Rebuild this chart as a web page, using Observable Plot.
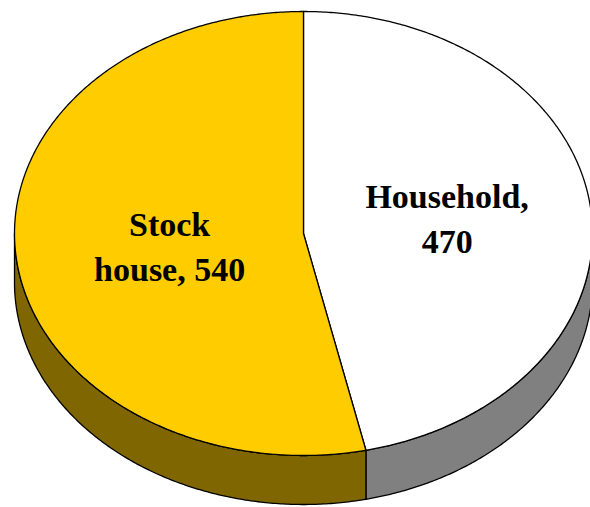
<!DOCTYPE html>
<html>
<head>
<meta charset="utf-8">
<script src="https://cdn.jsdelivr.net/npm/d3@7"></script>
<script src="https://cdn.jsdelivr.net/npm/@observablehq/plot@0.6"></script>
<style>
  html, body { margin: 0; padding: 0; background: #fff; }
  svg { display: block; }
</style>
</head>
<body>
<div id="chart"></div>
<script>
// ---- data ----
const categories = ["Household", "Stock house"];
const values = [470, 540];
const labels = ["Household,\n470", "Stock\nhouse, 540"];
const topColors = ["#ffffff", "#ffcc00"];
const sideColors = ["#808080", "#7f6600"];

// ---- geometry (ellipse of the tilted pie) ----
const W = 590, H = 507;
const cx = 303, cy = 233, rx = 289, ry = 222, depth = 49;
const pt = (a, dy = 0) => ({x: cx + rx * Math.sin(a), y: cy - ry * Math.cos(a) + dy});
const arc = (a0, a1, dy = 0) => {
  const n = Math.max(2, Math.ceil(Math.abs(a1 - a0) / (Math.PI / 360)));
  return d3.range(n + 1).map(i => pt(a0 + (a1 - a0) * i / n, dy));
};

const arcs = d3.pie().sort(null).startAngle(0).endAngle(2 * Math.PI)(values);

const polys = [];
// side walls (front half: angles between PI/2 and 3PI/2)
arcs.forEach((s, i) => {
  const a0 = Math.max(s.startAngle, Math.PI / 2);
  const a1 = Math.min(s.endAngle, 3 * Math.PI / 2);
  if (a1 <= a0) return;
  const top = arc(a0, a1, 0);
  const bot = arc(a1, a0, depth);
  const ring = [...top, ...bot, top[0]];
  ring.forEach(p => polys.push({id: "side" + i, fill: sideColors[i], ...p}));
});
// top faces
arcs.forEach((s, i) => {
  const ring = [{x: cx, y: cy}, ...arc(s.startAngle, s.endAngle), {x: cx, y: cy}];
  ring.forEach(p => polys.push({id: "top" + i, fill: topColors[i], ...p}));
});

// label anchors from slice mid-angles
const labelRadius = [0.5, 0.466];
const labelShift = [-5, -1];
const labelData = arcs.map((s, i) => {
  const m = (s.startAngle + s.endAngle) / 2;
  return {
    text: labels[i],
    x: cx + rx * labelRadius[i] * Math.sin(m),
    y: cy - ry * labelRadius[i] * Math.cos(m) + labelShift[i]
  };
});

const chart = Plot.plot({
  width: W,
  height: H,
  margin: 0,
  x: {domain: [0, W], range: [0, W], axis: null},
  y: {domain: [0, H], range: [0, H], axis: null},
  color: {type: "identity"},
  style: {background: "#fff"},
  marks: [
    Plot.line(polys, {x: "x", y: "y", z: "id", fill: "fill", stroke: "#000", strokeWidth: 1.3, curve: "linear", strokeLinejoin: "round"}),
    Plot.text(labelData, {
      x: "x", y: "y", text: "text",
      fontFamily: "'Liberation Serif', 'Times New Roman', serif",
      fontWeight: "bold", fontSize: 34, lineHeight: 1.32,
      fill: "#000", textAnchor: "middle"
    })
  ]
});
document.getElementById("chart").appendChild(chart);
</script>
</body>
</html>
